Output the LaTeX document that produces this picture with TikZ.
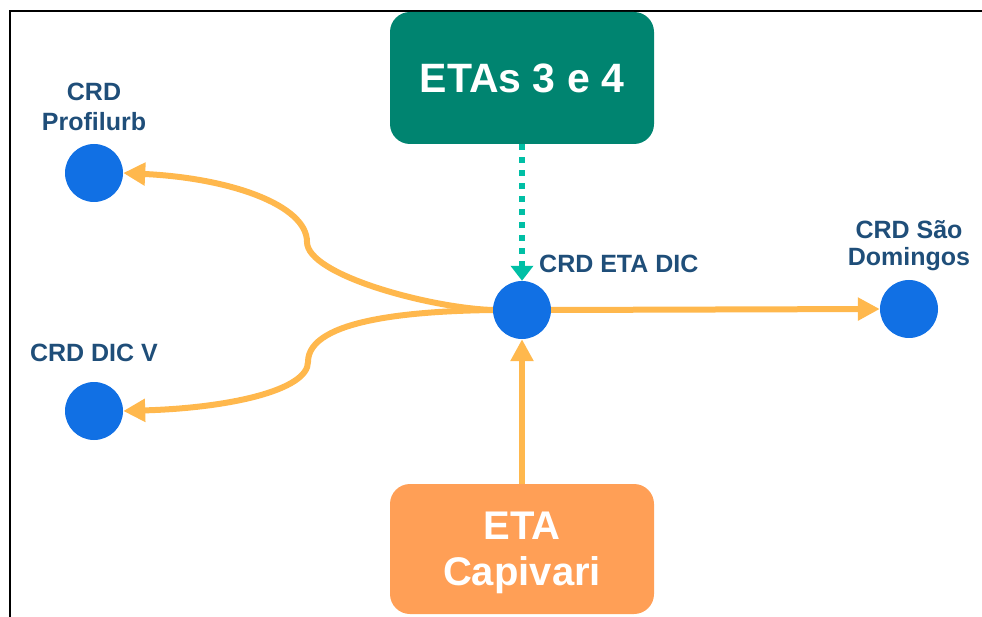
\documentclass[tikz,border=0pt]{standalone}
\usepackage{fontspec}
\setmainfont{Liberation Sans}
\usetikzlibrary{arrows.meta}

\definecolor{hubblue}{RGB}{17,112,228}
\definecolor{labelblue}{RGB}{31,78,121}
\definecolor{etagreen}{RGB}{0,132,112}
\definecolor{etaorange}{RGB}{255,159,86}
\definecolor{flowgold}{RGB}{255,184,77}
\definecolor{flowteal}{RGB}{0,191,165}

\begin{document}
\begin{tikzpicture}[x=1pt,y=-1pt,
  station/.style={circle,fill=hubblue,minimum size=58pt,inner sep=0pt},
  plantbox/.style={rectangle,rounded corners=20pt,minimum width=264pt,
    inner sep=0pt,text=white,align=center},
  tag/.style={text=labelblue,inner sep=0pt,align=center},
  tagfont/.style={font=\bfseries\fontsize{25}{#1}\selectfont},
  flow/.style={draw=flowgold,line width=6pt,-{Triangle[length=22pt,width=22pt]}},
  feed/.style={draw=flowteal,line width=6.5pt,dash pattern=on 6pt off 7pt,
    -{Triangle[length=15pt,width=22pt]}}
]
\useasboundingbox (0,0) rectangle (982,617);

% frame edges
\draw[line width=2.5pt,black] (10,617) -- (10,11) -- (982,11);

% treatment plants
\node[plantbox,fill=etagreen,minimum height=132pt,
  font=\bfseries\fontsize{41}{48}\selectfont] (eta34) at (522,78) {ETAs 3 e 4};
\node[plantbox,fill=etaorange,minimum height=130pt,text depth=0pt,
  font=\bfseries\fontsize{40}{46}\selectfont] (capivari) at (522,549) {ETA\\Capivari};

% reservoirs
\node[station] (hub) at (522,310) {};
\node[station] (profilurb) at (94,173) {};
\node[station] (dicv) at (94,411) {};
\node[station] (sao) at (909,309) {};

% reservoir labels
\node[tag,tagfont=30] (lprof) at (94,106.5) {CRD\\Profilurb};
\node[tag,tagfont=30,anchor=base] (ldicv) at (94,362) {CRD DIC V};
\node[tag,tagfont=30,anchor=base west] (lhub) at (539,273) {CRD ETA DIC};
\node[tag,tagfont=27] (lsao) at (909,246) {CRD São\\Domingos};

% flows
\draw[feed] (eta34.south) -- (hub.north);
\draw[flow] (capivari.north) -- (hub.south);
\draw[flow] (hub.east) -- (sao.west);
\draw[flow] (hub.west) .. controls (430,308) and (307,275) .. (307,242)
  .. controls (307,205) and (230,178) .. (profilurb.east);
\draw[flow] (hub.west) .. controls (420,311) and (308,318) .. (308,362)
  .. controls (308,390) and (230,408) .. (dicv.east);
\end{tikzpicture}
\end{document}
